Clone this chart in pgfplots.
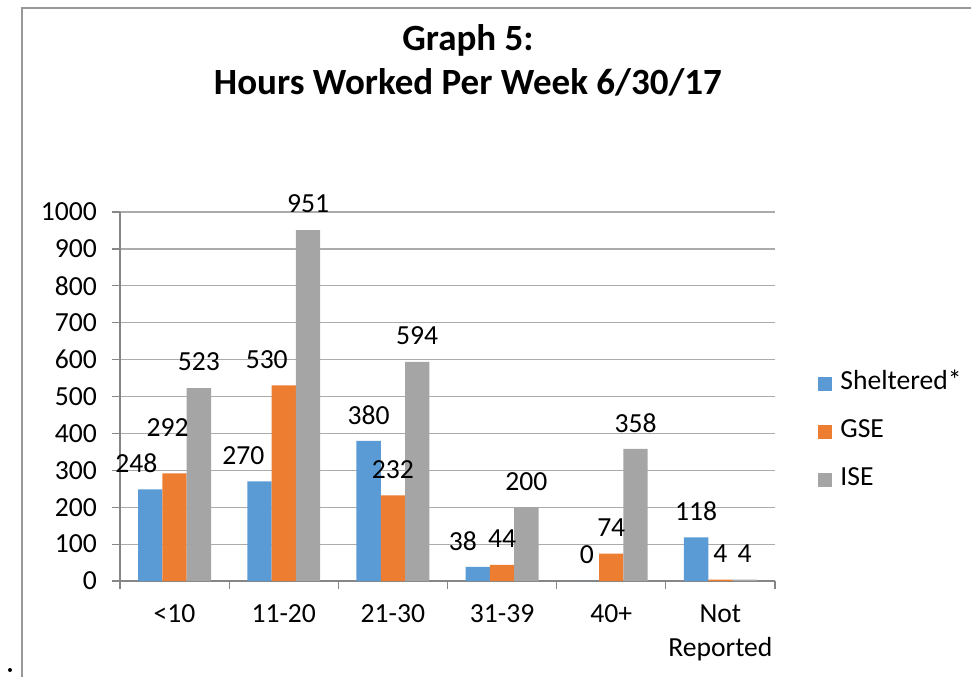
\documentclass[border=0pt]{standalone}
\usepackage{fontspec}
\setmainfont{Carlito}
\usepackage{pgfplots}
\pgfplotsset{compat=1.18}
\usepackage{pgfplotstable}
\definecolor{cBlue}{HTML}{5B9BD5}
\definecolor{cOrange}{HTML}{ED7D31}
\definecolor{cGray}{HTML}{A5A5A5}
\definecolor{gridGray}{HTML}{ABABAB}
\definecolor{axGray}{HTML}{868686}
\definecolor{frameGray}{HTML}{989898}

\pgfplotstableread{
x y dx dy
0 248 -7 0
1 270 -8 0
2 380 0 0
3 38 -7.5 0
4 0 0 0
5 118 0 0
}\shel
\pgfplotstableread{
x y dx dy
0 292 -3.5 10
1 530 -8.5 0
2 232 0 0
3 44 0 0
4 74 0 0
5 4 0 0
}\gse
\pgfplotstableread{
x y dx dy
0 523 0 0
1 951 0 0
2 594 0 0
3 200 0 0
4 358 0 0
5 4 0 0
}\ise

\newcommand{\bodyfont}{\fontsize{13.8}{17}\selectfont}

\begin{document}
\begin{tikzpicture}
\path[use as bounding box] (-60pt,-48pt) rectangle (425.5pt,290.5pt);
\draw[color=frameGray, line width=0.6pt] (-49pt,-48pt) -- (-49pt,286.5pt) -- (425.5pt,286.5pt);
\fill (-55pt,-44.5pt) circle (1pt);
\node[font=\fontsize{18.5}{22}\selectfont\bfseries, align=center] at (174pt,260.5pt) {Graph 5:\\Hours Worked Per Week 6/30/17};
\begin{axis}[
  scale only axis,
  width=327.5pt, height=184.5pt,
  ybar=0pt, bar width=12.15pt,
  xmin=-0.5, xmax=5.5,
  ymin=0, ymax=1000,
  ytick={0,100,...,1000},
  xtick={-0.5,0.5,...,5.5},
  xticklabels={},
  extra x ticks={0,1,2,3,4,5},
  extra x tick labels={<10,11-20,21-30,31-39,40+,{Not\\Reported}},
  extra x tick style={major tick length=0pt, xticklabel style={align=center, anchor=north, yshift=-8.5pt}},
  yticklabel style={xshift=-4pt},
  axis lines=left,
  axis line style={-, color=axGray, line width=0.6pt},
  tick align=outside,
  major tick length=4pt,
  tick style={color=axGray, line width=0.6pt},
  ymajorgrids,
  grid style={color=gridGray, line width=0.6pt},
  tick label style={font=\bodyfont, text=black},
  /pgf/number format/assume math mode=true,
  /pgf/number format/1000 sep={},
  nodes near coords,
  every node near coord/.append style={font=\bodyfont, text=black},
  visualization depends on={\thisrow{dx}\as\dx},
  visualization depends on={\thisrow{dy}\as\dy},
  nodes near coords style={anchor=center, xshift=\dx pt, yshift=13pt+\dy pt},
  legend image code/.code={\fill[#1] (0pt,-3.5pt) rectangle (7pt,3.5pt);},
  legend style={draw=none, fill=none, at={(1,0.404)}, anchor=west, xshift=21.5pt,
    inner sep=0pt, font=\bodyfont, row sep=12pt, column sep=4pt,
    nodes={inner sep=0pt, text height=9pt, text depth=3pt}},
  legend cell align=left,
]
\addplot[fill=cBlue, draw=none] table[x=x,y=y] {\shel};
\addplot[fill=cOrange, draw=none] table[x=x,y=y] {\gse};
\addplot[fill=cGray, draw=none] table[x=x,y=y] {\ise};
\legend{Sheltered*,GSE,ISE}
\end{axis}
\end{tikzpicture}
\end{document}
